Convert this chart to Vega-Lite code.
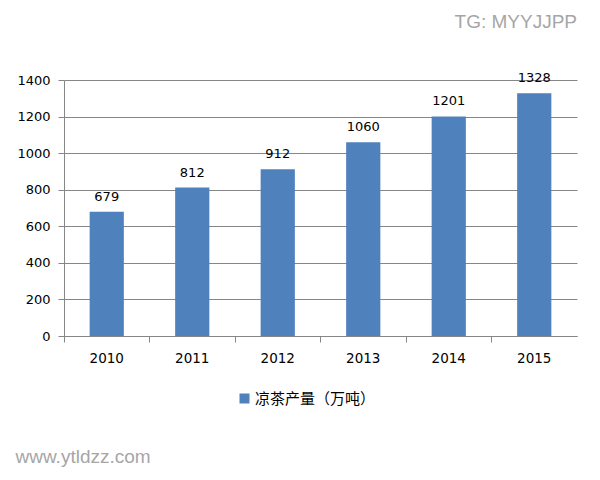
{
  "$schema": "https://vega.github.io/schema/vega-lite/v6.json",
  "autosize": "none",
  "padding": {"left": 64, "top": 80, "right": 23, "bottom": 144},
  "background": "white",
  "width": 513,
  "height": 256,
  "title": {"text": "TG: MYYJJPP", "anchor": "end", "orient": "top", "fontSize": 19, "font": "Liberation Sans", "fontWeight": "normal", "color": "#A6A6A6", "offset": 40},
  "data": {
    "values": [
      {"year": "2010", "value": 679},
      {"year": "2011", "value": 812},
      {"year": "2012", "value": 912},
      {"year": "2013", "value": 1060},
      {"year": "2014", "value": 1201},
      {"year": "2015", "value": 1328}
    ]
  },
  "resolve": {"axis": {"x": "independent"}},
  "layer": [
    {
      "mark": {"type": "bar", "color": "#4F81BD", "width": {"band": 0.4}},
      "encoding": {
        "x": {"field": "year", "type": "nominal", "scale": {"paddingInner": 0, "paddingOuter": 0},
          "axis": {"orient": "bottom", "title": null, "labelAngle": 0, "ticks": false, "domain": true, "domainColor": "#868686", "labelFont": "DejaVu Sans", "labelFontSize": 13.5, "labelColor": "#000", "labelPadding": 15}},
        "y": {"field": "value", "type": "quantitative", "scale": {"domain": [0, 1400], "nice": false},
          "axis": {"title": null, "values": [0, 200, 400, 600, 800, 1000, 1200, 1400], "format": "d", "labelOverlap": false, "labelFlush": false, "grid": true, "gridColor": "#868686", "domainColor": "#868686", "tickColor": "#868686", "tickSize": 6, "labelFont": "DejaVu Sans", "labelFontSize": 13, "labelColor": "#000", "labelPadding": 8}},
        "fill": {"datum": "凉茶产量（万吨）", "type": "nominal", "scale": {"range": ["#4F81BD"]},
          "legend": {"title": null, "orient": "none", "legendX": 173, "legendY": 311, "symbolType": "square", "symbolSize": 100, "symbolStrokeWidth": 0, "labelFont": "Noto Sans CJK SC", "labelFontSize": 15, "labelColor": "#000", "labelOffset": 3, "padding": 0}}
      }
    },
    {
      "mark": {"type": "text", "dy": -15, "font": "DejaVu Sans", "fontSize": 13, "color": "#000"},
      "encoding": {
        "x": {"field": "year", "type": "nominal",
          "axis": {"orient": "bottom", "title": "www.ytldzz.com", "titleFont": "Liberation Sans", "titleFontSize": 19, "titleFontWeight": "normal", "titleColor": "#A6A6A6", "titleAnchor": "start", "titleAlign": "left", "titleBaseline": "alphabetic", "titleX": -49, "titleY": 126, "labels": false, "domain": false, "ticks": true, "bandPosition": 0, "tickColor": "#868686", "tickSize": 6, "grid": false}},
        "y": {"field": "value", "type": "quantitative", "scale": {"domain": [0, 1400], "nice": false},
          "axis": {"title": null, "values": [0, 200, 400, 600, 800, 1000, 1200, 1400], "format": "d", "labelOverlap": false, "labelFlush": false, "grid": true, "gridColor": "#868686", "domainColor": "#868686", "tickColor": "#868686", "tickSize": 6, "labelFont": "DejaVu Sans", "labelFontSize": 13, "labelColor": "#000", "labelPadding": 8}},
        "text": {"field": "value", "type": "quantitative"}
      }
    }
  ],
  "config": {
    "view": {"stroke": null}
  }
}
